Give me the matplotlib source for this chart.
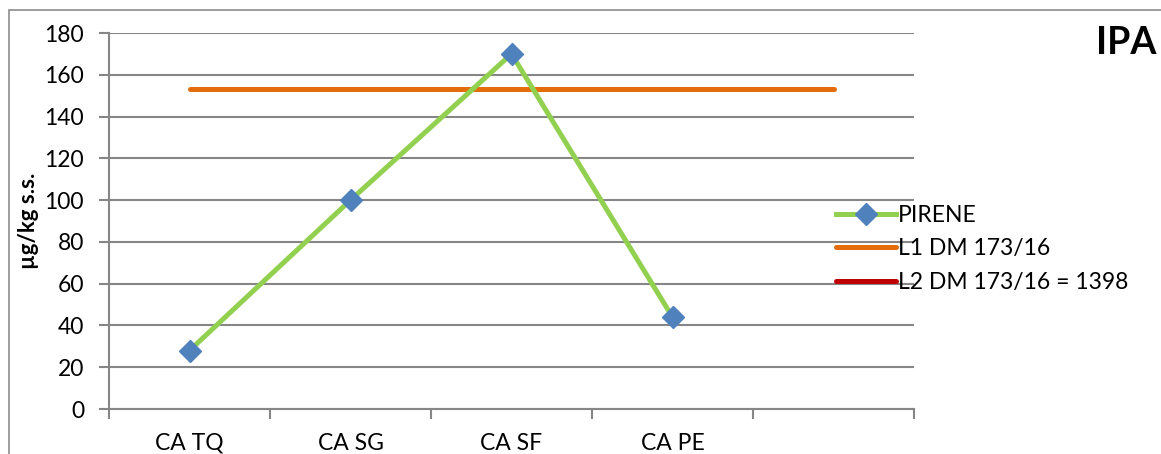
import matplotlib.pyplot as plt
from matplotlib.patches import Rectangle
import numpy as np

plt.rcParams['font.family'] = ['Lato', 'DejaVu Sans']

# dati
categorie = ['CA TQ', 'CA SG', 'CA SF', 'CA PE', '']
pirene = [28, 100, 170, 44]
l1_dm = [153, 153, 153, 153, 153]
l2_dm = [1398, 1398, 1398, 1398, 1398]

fig = plt.figure(figsize=(11.61, 4.54), dpi=100)
ax = fig.add_axes([109 / 1161, 1 - 409 / 454, 805 / 1161, 376 / 454])

# cornice del grafico
fig.patches.append(Rectangle((8.5 / 1161, -0.5), 2, 0.5 + 1 - 10 / 454,
                             transform=fig.transFigure, fill=False,
                             edgecolor='#8c8c8c', linewidth=1.2))

x = np.arange(len(categorie))
ax.plot(x[:len(pirene)], pirene, color='#92D050', linewidth=3.6,
        marker='D', markersize=11.5, markerfacecolor='#4F81BD',
        markeredgecolor='#4F81BD', label='PIRENE', zorder=4)
ax.plot(x, l1_dm, color='#E46C0A', linewidth=3.6, solid_capstyle='round',
        label='L1 DM 173/16', zorder=3)
ax.plot(x, l2_dm, color='#C00000', linewidth=3.6, solid_capstyle='round',
        label='L2 DM 173/16 = 1398', zorder=3)

ax.set_xlim(-0.5, len(categorie) - 0.5)
ax.set_ylim(0, 180)
ax.set_yticks(np.arange(0, 181, 20))
ax.set_xticks(x)
ax.set_xticklabels(categorie)
ax.set_xticks(np.arange(-0.5, len(categorie), 1), minor=True)

ax.grid(axis='y', color='#868686', linewidth=1.5)
ax.set_axisbelow(True)
for s in ['top', 'right']:
    ax.spines[s].set_visible(False)
ax.spines['left'].set_color('#868686')
ax.spines['bottom'].set_color('#868686')
ax.spines['left'].set_linewidth(1.5)
ax.spines['bottom'].set_linewidth(1.5)

ax.tick_params(axis='y', length=7, width=1.5, color='#868686', pad=11,
               labelsize=16.5)
ax.tick_params(axis='x', which='major', length=0, pad=17, labelsize=16.5)
ax.tick_params(axis='x', which='minor', length=7, width=1.5, color='#868686')

ax.set_ylabel('µg/kg s.s.', fontsize=16, fontweight='bold', labelpad=4)

ax.legend(loc='center left', bbox_to_anchor=(836 / 1161, 1 - 249 / 454),
          bbox_transform=fig.transFigure, frameon=False, fontsize=16.5,
          handlelength=2.6, handletextpad=0.1, labelspacing=0.55,
          borderpad=0, borderaxespad=0)

fig.text(1156 / 1161, 1 - 43 / 454, 'IPA', fontsize=27, fontweight='bold',
         ha='right', va='center')

fig.savefig('out.png', dpi=100)
